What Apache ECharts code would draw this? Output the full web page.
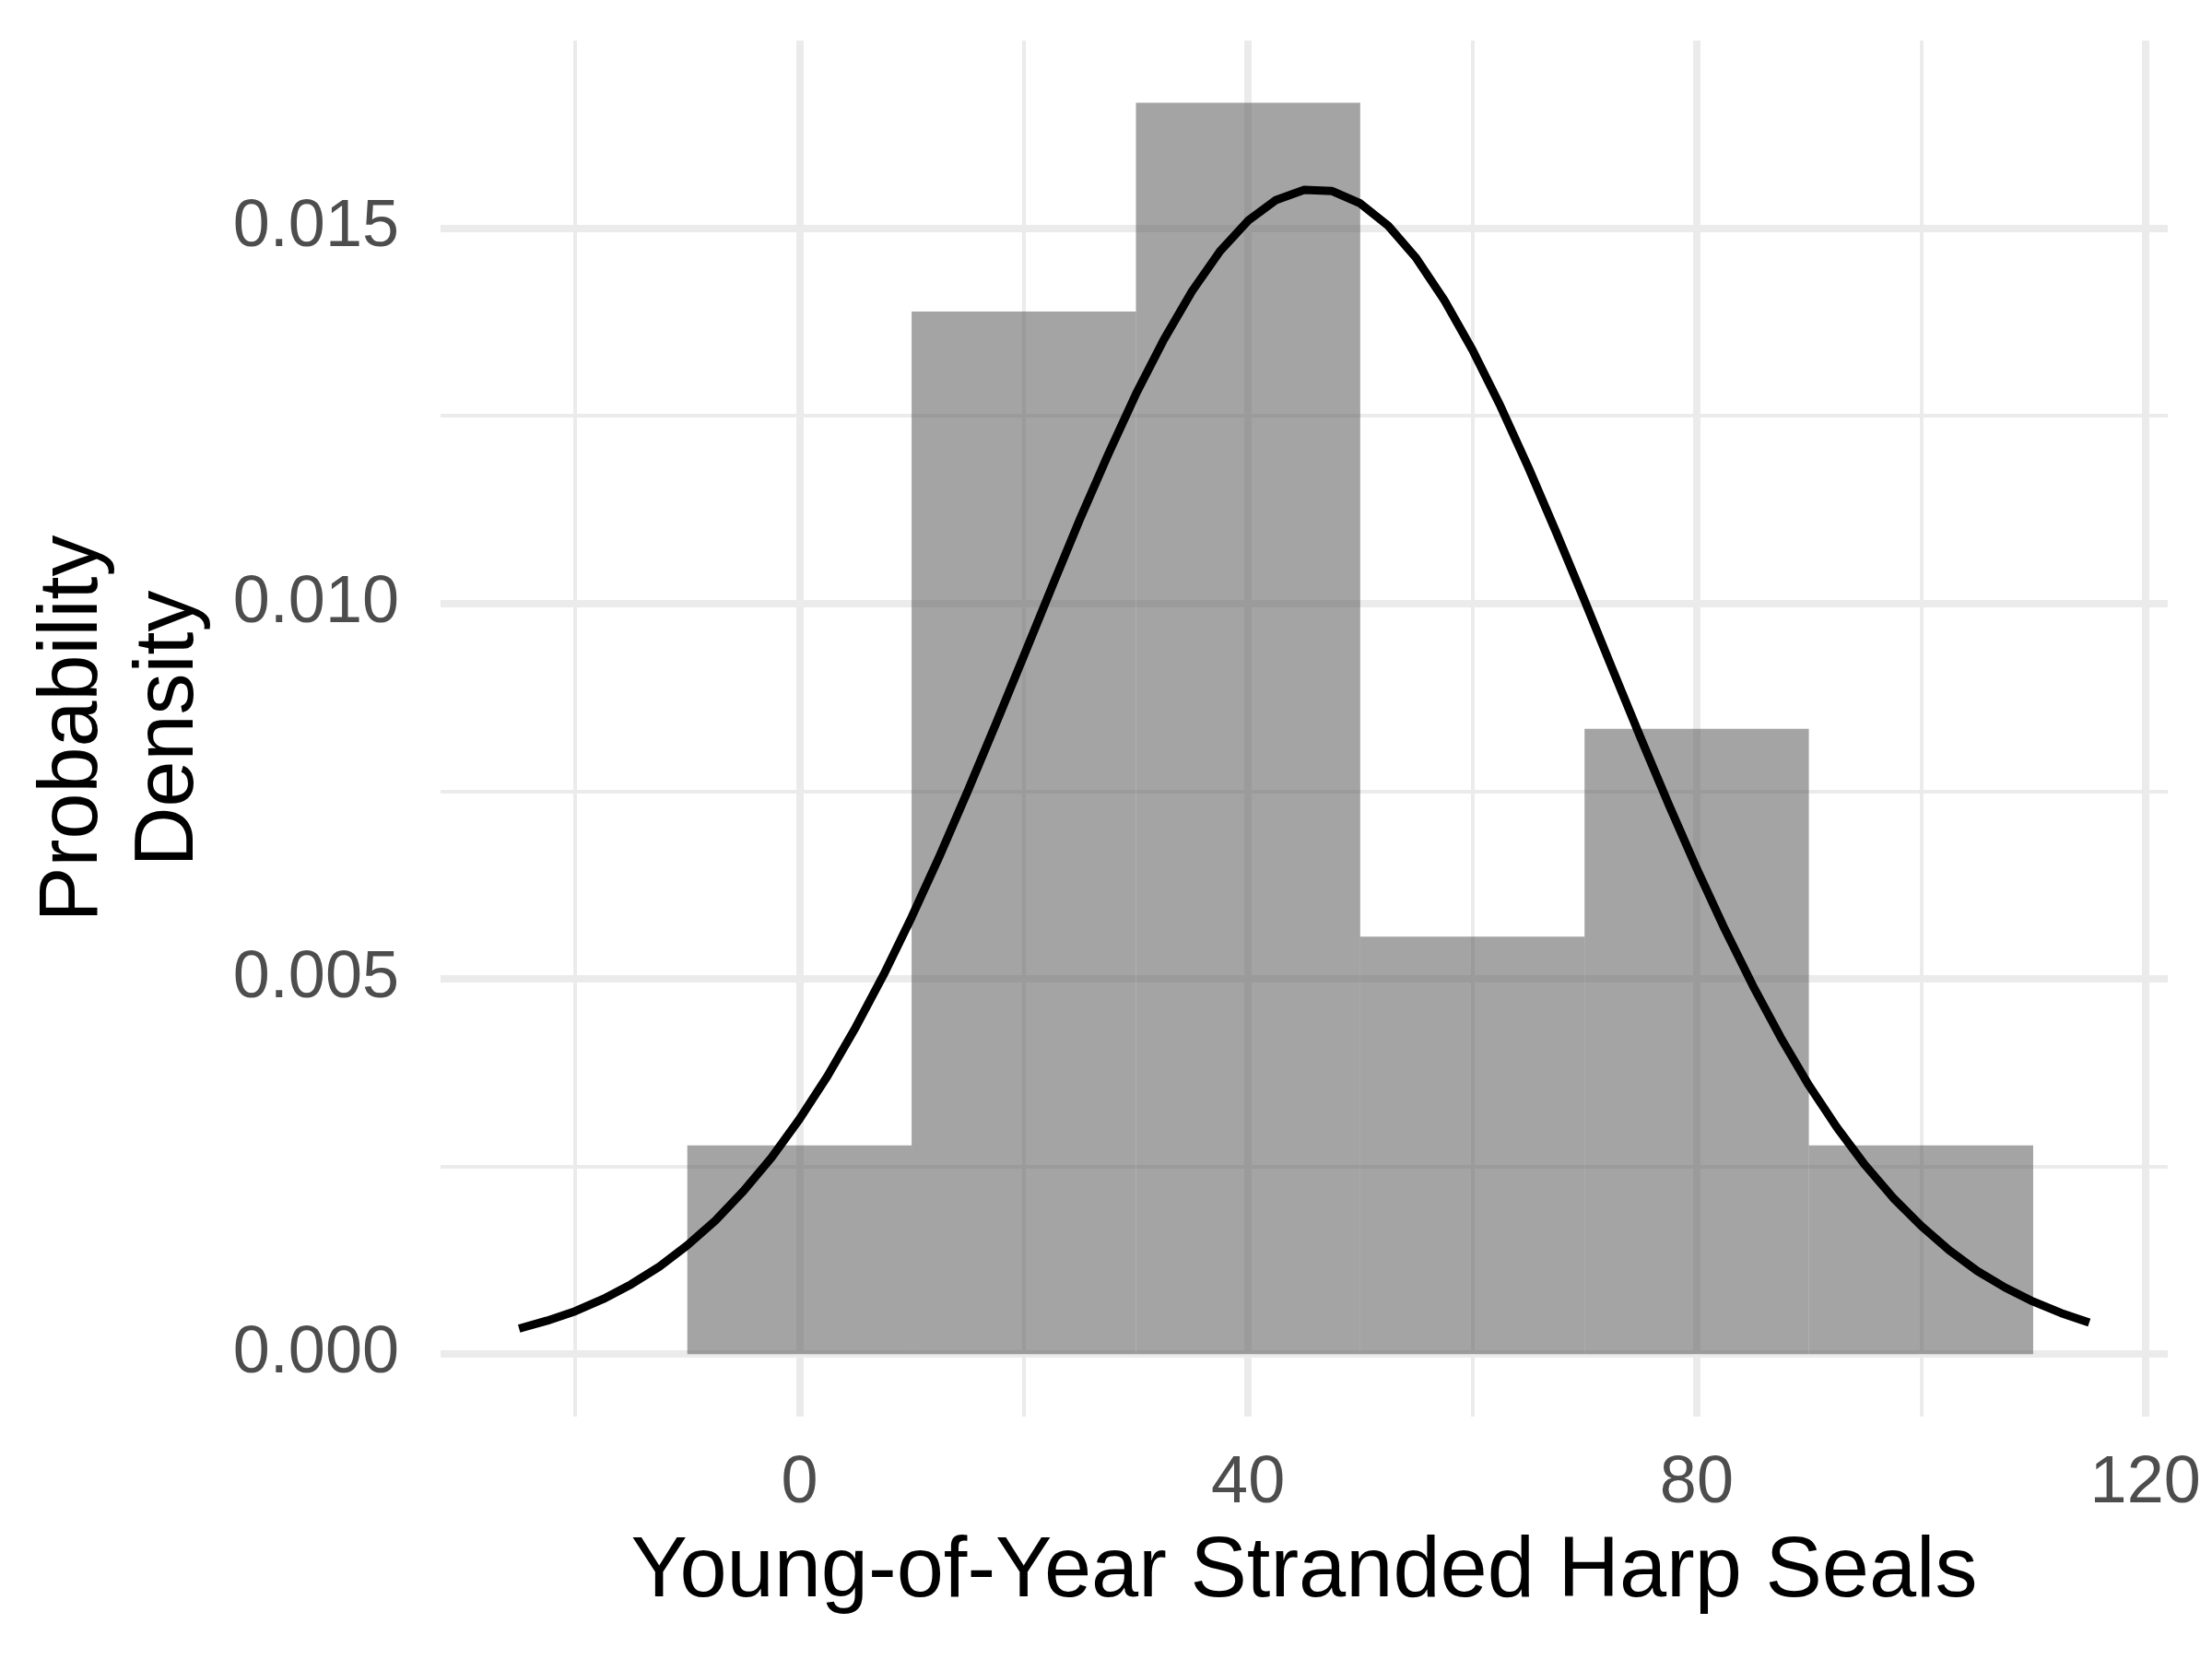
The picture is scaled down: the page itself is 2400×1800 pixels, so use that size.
<!DOCTYPE html>
<html>
<head>
<meta charset="utf-8">
<script src="https://cdn.jsdelivr.net/npm/echarts@6/dist/echarts.min.js"></script>
<style>
  html, body { margin: 0; padding: 0; background: #fff; }
  #chart { width: 2400px; height: 1800px; }
</style>
</head>
<body>
<div id="chart"></div>
<script>
// histogram bins (count / (n * binwidth))
var binStart = [-10, 10, 30, 50, 70, 90];
var binEnd = [10, 30, 50, 70, 90, 110];
var binDensity = [0.00278, 0.01389, 0.01667, 0.00556, 0.00833, 0.00278];

// fitted density curve
var curveX = [-25, -22.5, -20, -17.5, -15, -12.5, -10, -7.5, -5, -2.5, 0, 2.5, 5, 7.5, 10, 12.5, 15, 17.5, 20, 22.5,
  25, 27.5, 30, 32.5, 35, 37.5, 40, 42.5, 45, 47.5, 50, 52.5, 55, 57.5, 60, 62.5, 65, 67.5, 70, 72.5,
  75, 77.5, 80, 82.5, 85, 87.5, 90, 92.5, 95, 97.5, 100, 102.5, 105, 107.5, 110, 112.5, 115];
var curveY = [0.00034, 0.000445, 0.00057, 0.000733, 0.00093, 0.001164, 0.00145, 0.001778, 0.00217, 0.002615,
  0.00313, 0.003705, 0.00435, 0.005053, 0.00582, 0.006636, 0.0075, 0.008392, 0.0093, 0.010217,
  0.01112, 0.011978, 0.01279, 0.013519, 0.01416, 0.014694, 0.0151, 0.015377, 0.01551, 0.015494,
  0.01533, 0.015031, 0.0146, 0.014041, 0.01338, 0.01263, 0.01181, 0.010938, 0.01004, 0.009121,
  0.00821, 0.007324, 0.00647, 0.005662, 0.00491, 0.004214, 0.00358, 0.00302, 0.00252, 0.002084,
  0.00171, 0.001385, 0.00111, 0.000886, 0.0007, 0.000546, 0.00042];

// axis breaks
var xMajor = [0, 40, 80, 120];
var xMinor = [-20, 20, 60, 100];
var yMajor = [0, 0.005, 0.010, 0.015];
var yMinor = [0.0025, 0.0075, 0.0125];

var font = 'Liberation Sans';
var gridColor = '#ebebeb';

var chart = echarts.init(document.getElementById('chart'));

var bins = binStart.map(function (s, i) { return [s, binEnd[i], binDensity[i]]; });
var curve = curveX.map(function (x, i) { return [x, curveY[i]]; });

var option = {
  backgroundColor: '#fff',
  animation: false,
  grid: { left: 478, right: 48, top: 44, bottom: 263 },
  xAxis: [{
    type: 'value', min: -32, max: 122,
    name: 'Young-of-Year Stranded Harp Seals',
    nameLocation: 'middle', nameGap: 124,
    nameTextStyle: { fontFamily: font, fontSize: 92, color: '#000' },
    axisLine: { show: false },
    axisTick: { show: false, customValues: xMajor },
    axisLabel: { customValues: xMajor, margin: 37, fontFamily: font, fontSize: 72, color: '#4d4d4d' },
    splitLine: { show: true, lineStyle: { color: gridColor, width: 8 } }
  }, {
    type: 'value', min: -32, max: 122,
    axisLine: { show: false },
    axisTick: { show: false, customValues: xMinor },
    axisLabel: { show: false },
    splitLine: { show: true, lineStyle: { color: gridColor, width: 4 } }
  }],
  yAxis: [{
    type: 'value', min: -0.000833, max: 0.0175,
    name: 'Probability\nDensity',
    nameLocation: 'middle', nameGap: 242, nameRotate: 90,
    nameTextStyle: { fontFamily: font, fontSize: 90, color: '#000', lineHeight: 104, align: 'center' },
    axisLine: { show: false },
    axisTick: { show: false, customValues: yMajor },
    axisLabel: {
      customValues: yMajor, margin: 45, fontFamily: font, fontSize: 72, color: '#4d4d4d',
      formatter: function (v) { return v.toFixed(3); }
    },
    splitLine: { show: true, lineStyle: { color: gridColor, width: 8 } }
  }, {
    type: 'value', min: -0.000833, max: 0.0175,
    axisLine: { show: false },
    axisTick: { show: false, customValues: yMinor },
    axisLabel: { show: false },
    splitLine: { show: true, lineStyle: { color: gridColor, width: 4 } }
  }],
  series: [{
    type: 'custom',
    xAxisIndex: 0, yAxisIndex: 0,
    data: bins,
    renderItem: function (params, api) {
      var p0 = api.coord([api.value(0), api.value(2)]);
      var p1 = api.coord([api.value(1), 0]);
      return {
        type: 'rect',
        shape: { x: p0[0], y: p0[1], width: p1[0] - p0[0], height: p1[1] - p0[1] },
        style: { fill: 'rgba(89,89,89,0.55)' }
      };
    }
  }, {
    type: 'line',
    xAxisIndex: 0, yAxisIndex: 0,
    data: curve,
    smooth: false,
    showSymbol: false,
    lineStyle: { color: '#000', width: 9, join: 'round', cap: 'butt' }
  }]
};

chart.setOption(option);
</script>
</body>
</html>
